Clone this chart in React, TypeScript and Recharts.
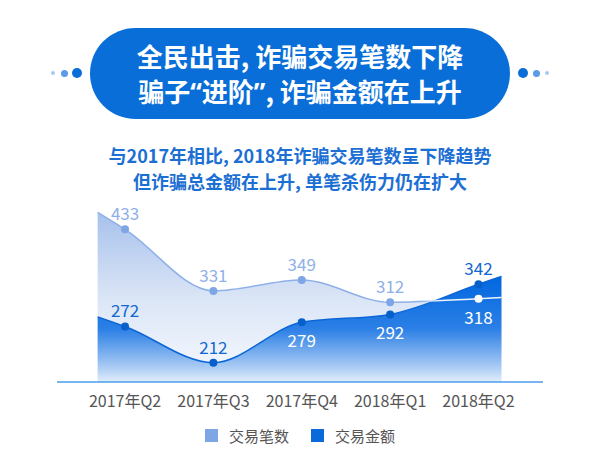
import React from "react";
import {
  ComposedChart,
  Area,
  Line,
  XAxis,
  YAxis,
  LabelList,
} from "recharts";

const quarters = ["2017年Q2", "2017年Q3", "2017年Q4", "2018年Q1", "2018年Q2"];
const txCount = [433, 331, 349, 312, 318];
const txAmount = [272, 212, 279, 292, 342];
// the curves run on a bit past the first and last quarter
const countEnds = [461, 320];
const amountEnds = [288, 355];
const seriesNames = ["交易笔数", "交易金额"];

// labels that sit inside the dark area are drawn below the point in white
const countOnDark = [false, false, false, false, true];
const amountOnDark = [false, false, true, true, false];

const FONT = '"Noto Sans CJK SC", "Noto Sans", sans-serif';
const LATIN = '"Noto Sans", sans-serif';
const COUNT_COLOR = "#7ea6e6";
const AMOUNT_COLOR = "#0a6ad9";
const X_LEFT = -0.31;
const X_RIGHT = 4.26;

const data = [
  { x: X_LEFT, count: countEnds[0], amount: amountEnds[0] },
  ...quarters.map((q, i) => ({
    x: i,
    qi: i,
    quarter: q,
    count: txCount[i],
    amount: txAmount[i],
  })),
  { x: X_RIGHT, count: countEnds[1], amount: amountEnds[1] },
];

const makeLabel =
  (values: number[], onDark: boolean[], color: string) => (props: any) => {
    const qi = props.value;
    if (qi == null) return null;
    const x = props.x ?? props.viewBox?.x;
    const y = props.y ?? props.viewBox?.y;
    const below = onDark[qi];
    return (
      <text
        key={`lbl-${color}-${qi}`}
        x={x}
        y={below ? y + 25 : y - 9}
        textAnchor="middle"
        fontSize={17}
        fontFamily={FONT}
        fill={below ? "#ffffff" : color}
      >
        {values[qi]}
      </text>
    );
  };

const countDot = (p: any) => {
  const { cx, cy, payload, index } = p;
  if (payload.qi == null) return <g key={`cd-${index}`} />;
  return (
    <circle
      key={`cd-${index}`}
      cx={cx}
      cy={cy}
      r={4}
      fill={countOnDark[payload.qi] ? "#ffffff" : COUNT_COLOR}
    />
  );
};

const amountDot = (p: any) => {
  const { cx, cy, payload, index } = p;
  if (payload.qi == null) return <g key={`ad-${index}`} />;
  return <circle key={`ad-${index}`} cx={cx} cy={cy} r={4} fill="#075fcb" />;
};

function SideDots({ left }: { left: boolean }) {
  const dots = [
    { r: 2, c: "#a9c8f0", d: 24 },
    { r: 3.5, c: "#5a9be6", d: 13 },
    { r: 5, c: "#0a6ed8", d: 0 },
  ];
  return (
    <>
      {dots.map((dt, i) => (
        <div
          key={i}
          style={{
            position: "absolute",
            top: 73 - dt.r,
            left: left ? 77 - dt.d - dt.r : 523 + dt.d - dt.r,
            width: dt.r * 2,
            height: dt.r * 2,
            borderRadius: "50%",
            background: dt.c,
          }}
        />
      ))}
    </>
  );
}

export default function App() {
  return (
    <div
      style={{
        position: "absolute",
        left: 0,
        top: 0,
        width: 600,
        height: 467,
        background: "#ffffff",
        fontFamily: FONT,
      }}
    >
      <ComposedChart
        width={600}
        height={467}
        data={data}
        margin={{ top: 201, right: 57, bottom: 55, left: 57 }}
      >
        <defs>
          <linearGradient id="countFill" x1="0" y1="0" x2="0" y2="1">
            <stop offset="0%" stopColor="#a7c1ec" />
            <stop offset="50%" stopColor="#dae5f6" />
            <stop offset="100%" stopColor="#f7faff" />
          </linearGradient>
          <linearGradient id="amountFill" x1="0" y1="0" x2="0" y2="1">
            <stop offset="0%" stopColor="#0067df" />
            <stop offset="50%" stopColor="#2c80e6" />
            <stop offset="85%" stopColor="#a6c9f3" />
            <stop offset="100%" stopColor="#e2eefc" />
          </linearGradient>
          <linearGradient id="countStroke" x1="0" y1="0" x2="1" y2="0">
            <stop offset="0%" stopColor="#8db0e8" />
            <stop offset="80%" stopColor="#8db0e8" />
            <stop offset="85%" stopColor="#eef4fd" />
            <stop offset="100%" stopColor="#eef4fd" />
          </linearGradient>
        </defs>

        <XAxis
          type="number"
          dataKey="x"
          domain={[-0.77, 4.73]}
          allowDataOverflow
          ticks={[0, 1, 2, 3, 4]}
          tickFormatter={(i) => quarters[i]}
          height={30}
          tickLine={false}
          tickMargin={8}
          axisLine={{ stroke: "#4c9ce9", strokeWidth: 1.5 }}
          tick={{ fill: "#555555", fontSize: 16, fontFamily: FONT }}
        />
        <YAxis hide domain={[180, 480]} allowDataOverflow />

        <Area
          type="monotone"
          dataKey="count"
          stroke="none"
          fill="url(#countFill)"
          fillOpacity={1}
          isAnimationActive={false}
        />
        <Area
          type="monotone"
          dataKey="amount"
          stroke="#0a66d6"
          strokeWidth={1.5}
          fill="url(#amountFill)"
          fillOpacity={1}
          dot={amountDot}
          activeDot={false}
          isAnimationActive={false}
        >
          <LabelList
            dataKey="qi"
            content={makeLabel(txAmount, amountOnDark, "#1268d0")}
          />
        </Area>
        <Line
          type="monotone"
          dataKey="count"
          stroke="url(#countStroke)"
          strokeWidth={1.5}
          dot={countDot}
          activeDot={false}
          isAnimationActive={false}
        >
          <LabelList
            dataKey="qi"
            content={makeLabel(txCount, countOnDark, "#8fb0e8")}
          />
        </Line>
      </ComposedChart>

      <SideDots left />
      <SideDots left={false} />
      <div
        style={{
          position: "absolute",
          left: 90,
          top: 28,
          width: 420,
          height: 91,
          borderRadius: 46,
          background: "#0a6ed8",
          color: "#ffffff",
          fontWeight: 700,
          fontSize: 26,
          lineHeight: "35px",
          textAlign: "center",
          display: "flex",
          flexDirection: "column",
          justifyContent: "center",
        }}
      >
        <div>全民出击, 诈骗交易笔数下降</div>
        <div>
          骗子<span style={{ fontFamily: LATIN }}>“</span>进阶
          <span style={{ fontFamily: LATIN }}>”</span>, 诈骗金额在上升
        </div>
      </div>

      <div
        style={{
          position: "absolute",
          left: 0,
          top: 142,
          width: 600,
          textAlign: "center",
          color: "#1c6fd3",
          fontWeight: 700,
          fontSize: 18,
          lineHeight: "26px",
        }}
      >
        <div>与2017年相比, 2018年诈骗交易笔数呈下降趋势</div>
        <div>但诈骗总金额在上升, 单笔杀伤力仍在扩大</div>
      </div>

      <div
        style={{
          position: "absolute",
          left: 0,
          top: 425,
          width: 600,
          display: "flex",
          justifyContent: "center",
          alignItems: "center",
          gap: 22,
          fontSize: 15,
          color: "#555555",
        }}
      >
        {seriesNames.map((name, i) => (
          <div key={name} style={{ display: "flex", alignItems: "center" }}>
            <span
              style={{
                width: 13,
                height: 13,
                marginRight: 11,
                background: i === 0 ? COUNT_COLOR : AMOUNT_COLOR,
              }}
            />
            <span>{name}</span>
          </div>
        ))}
      </div>
    </div>
  );
}
